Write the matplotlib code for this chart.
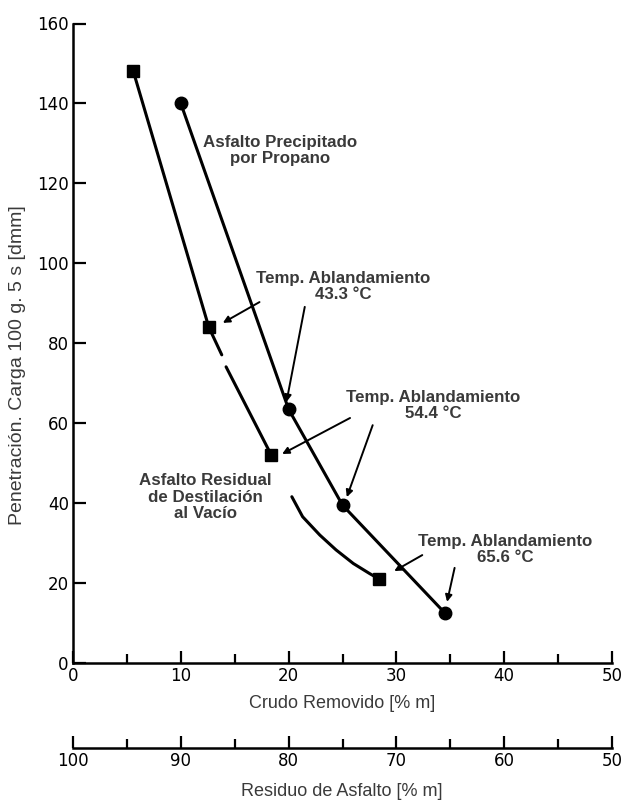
import matplotlib
matplotlib.use("Agg")
import matplotlib.pyplot as plt

# datos
sq_x = [5.6, 12.6, 18.4, 28.4]          # residuo de destilacion al vacio
sq_y = [148, 84, 52, 21]
ci_x = [10, 20, 25, 34.5]               # precipitado por propano
ci_y = [140, 63.5, 39.5, 12.5]

# trazos de la curva del residuo (con los cortes del original)
sq_line1_x = [5.6, 12.6, 13.8]
sq_line1_y = [148, 84, 77.1]
sq_line2_x = [14.2, 18.4]
sq_line2_y = [74.1, 52]
sq_line3_x = [20.3, 21.3, 22.9, 24.4, 26.0, 27.5, 28.4]
sq_line3_y = [41.6, 36.6, 32.0, 28.3, 24.9, 22.4, 21]

x_ticks = [0, 10, 20, 30, 40, 50]
res_ticks = [100, 90, 80, 70, 60, 50]
y_ticks = [0, 20, 40, 60, 80, 100, 120, 140, 160]

notes = [
    ("Asfalto Precipitado\npor Propano", 19.2, 128.3),
    ("Temp. Ablandamiento\n43.3 °C", 25.1, 94.1),
    ("Temp. Ablandamiento\n54.4 °C", 33.4, 64.5),
    ("Temp. Ablandamiento\n65.6 °C", 40.1, 28.3),
    ("Asfalto Residual\nde Destilación\nal Vacío", 12.3, 41.5),
]
# flechas: (x inicio, y inicio, x punta, y punta)
arrows = [
    (17.3, 90.3, 13.9, 85.1),
    (21.5, 89.1, 19.8, 65.3),
    (25.7, 61.3, 19.4, 52.3),
    (27.8, 59.5, 25.4, 41.5),
    (32.4, 27.0, 29.8, 23.0),
    (35.4, 23.8, 34.7, 15.3),
]

txt_color = "#3a3a3a"

fig = plt.figure(figsize=(6.21, 8.0), dpi=100)
ax = fig.add_axes([73/621, 1-663/800, 539/621, 639.5/800])

for lx, ly in [(sq_line1_x, sq_line1_y), (sq_line2_x, sq_line2_y),
               (sq_line3_x, sq_line3_y), (ci_x, ci_y)]:
    ax.plot(lx, ly, color="black", lw=2.2, solid_joinstyle="round",
            solid_capstyle="round")
ax.plot(sq_x, sq_y, "s", color="black", ms=9)
ax.plot(ci_x, ci_y, "o", color="black", ms=9)

for t, x, y in notes:
    ax.text(x, y, t, ha="center", va="center", fontsize=12.2, fontweight="bold",
            color=txt_color, family="Liberation Sans", linespacing=1.1)

for x0, y0, x1, y1 in arrows:
    ax.annotate("", xy=(x1, y1), xytext=(x0, y0),
                arrowprops=dict(arrowstyle="-|>", color="black", lw=1.4,
                                mutation_scale=10, shrinkA=0, shrinkB=0))

ax.set_xlim(0, 50)
ax.set_ylim(0, 160)
ax.spines["top"].set_visible(False)
ax.spines["right"].set_visible(False)
ax.spines["left"].set_linewidth(1.8)
ax.spines["bottom"].set_linewidth(1.8)
ax.set_xticks(x_ticks)
ax.set_xticks(range(5, 50, 10), minor=True)
ax.set_yticks(y_ticks)
ax.tick_params(axis="x", which="major", direction="in", length=9, width=1.6,
               labelsize=12, pad=3)
ax.tick_params(axis="x", which="minor", direction="in", length=6.5, width=1.6)
ax.tick_params(axis="y", direction="in", length=9, width=1.6, labelsize=12, pad=3)

sec = ax.secondary_xaxis(-(748.3-663)/639.5,
                         functions=(lambda v: 100 - v, lambda v: 100 - v))
sec.spines["bottom"].set_linewidth(1.8)
sec.set_xticks(res_ticks)
sec.set_xticks(range(95, 50, -10), minor=True)
sec.tick_params(axis="x", which="major", direction="in", length=9, width=1.6,
                labelsize=12, pad=3)
sec.tick_params(axis="x", which="minor", direction="in", length=6.5, width=1.6)

fig.text(342/621, 1-704/800, "Crudo Removido [% m]", ha="center", va="center",
         fontsize=13, color=txt_color, family="Liberation Sans")
fig.text(342/621, 1-792/800, "Residuo de Asfalto [% m]", ha="center", va="center",
         fontsize=13, color=txt_color, family="Liberation Sans")
fig.text(18/621, 1-365/800, "Penetración. Carga 100 g. 5 s [dmm]", rotation=90,
         ha="center", va="center", fontsize=14, color=txt_color,
         family="Liberation Sans")

fig.savefig("out.png", dpi=100)
